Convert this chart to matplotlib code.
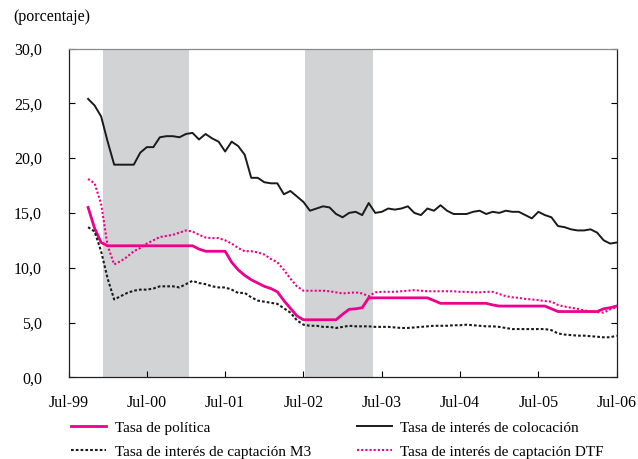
import numpy as np
import matplotlib
matplotlib.use('Agg')
import matplotlib.pyplot as plt

#======== Data (monthly, Oct-99 to Jul-06) ====================#

# x positions are months counted from Jul-99
months = np.arange(3, 85)

tasa_colocacion = [
    25.4, 24.8, 23.8, 21.5, 19.4, 19.4, 19.4, 19.4, 20.5, 21.0,
    21.0, 21.9, 22.0, 22.0, 21.9, 22.2, 22.3, 21.7, 22.2, 21.8,
    21.5, 20.6, 21.5, 21.1, 20.3, 18.2, 18.2, 17.8, 17.7, 17.7,
    16.7, 17.0, 16.5, 16.0, 15.2, 15.4, 15.6, 15.5, 14.9, 14.6,
    15.0, 15.1, 14.8, 15.9, 15.0, 15.1, 15.4, 15.3, 15.4, 15.6,
    15.0, 14.8, 15.4, 15.2, 15.7, 15.2, 14.9, 14.9, 14.9, 15.1,
    15.2, 14.9, 15.1, 15.0, 15.2, 15.1, 15.1, 14.8, 14.5, 15.1,
    14.8, 14.6, 13.8, 13.7, 13.5, 13.4, 13.4, 13.5, 13.2, 12.5,
    12.2, 12.3]

tasa_politica = [
    15.5, 13.6, 12.3, 12.0, 12.0, 12.0, 12.0, 12.0, 12.0, 12.0,
    12.0, 12.0, 12.0, 12.0, 12.0, 12.0, 12.0, 11.7, 11.5, 11.5,
    11.5, 11.5, 10.5, 9.8, 9.3, 8.9, 8.6, 8.3, 8.1, 7.8,
    7.0, 6.3, 5.6, 5.25, 5.25, 5.25, 5.25, 5.25, 5.25, 5.75,
    6.2, 6.25, 6.35, 7.25, 7.25, 7.25, 7.25, 7.25, 7.25, 7.25,
    7.25, 7.25, 7.25, 7.0, 6.75, 6.75, 6.75, 6.75, 6.75, 6.75,
    6.75, 6.75, 6.6, 6.5, 6.5, 6.5, 6.5, 6.5, 6.5, 6.5,
    6.5, 6.25, 6.0, 6.0, 6.0, 6.0, 6.0, 6.0, 6.0, 6.25,
    6.35, 6.5]

tasa_m3 = [
    13.7, 13.3, 11.5, 9.0, 7.1, 7.4, 7.7, 7.9, 8.0, 8.0,
    8.1, 8.3, 8.3, 8.3, 8.2, 8.5, 8.8, 8.6, 8.5, 8.3,
    8.2, 8.2, 8.0, 7.7, 7.7, 7.3, 7.0, 6.9, 6.8, 6.7,
    6.3, 5.9, 5.2, 4.8, 4.7, 4.7, 4.6, 4.6, 4.5, 4.6,
    4.7, 4.65, 4.65, 4.65, 4.6, 4.6, 4.6, 4.55, 4.5, 4.5,
    4.55, 4.6, 4.65, 4.7, 4.7, 4.7, 4.75, 4.75, 4.8, 4.75,
    4.7, 4.65, 4.65, 4.6, 4.5, 4.4, 4.4, 4.4, 4.4, 4.4,
    4.4, 4.3, 4.0, 3.9, 3.85, 3.8, 3.8, 3.75, 3.7, 3.65,
    3.65, 3.8]

tasa_dtf = [
    18.1, 17.7, 15.8, 12.0, 10.3, 10.6, 11.0, 11.5, 11.8, 12.2,
    12.5, 12.8, 12.9, 13.0, 13.2, 13.4, 13.3, 13.0, 12.75, 12.7,
    12.7, 12.5, 12.2, 11.8, 11.5, 11.5, 11.4, 11.2, 10.8, 10.5,
    9.8, 9.0, 8.3, 7.9, 7.9, 7.9, 7.9, 7.85, 7.75, 7.65,
    7.7, 7.75, 7.65, 7.4, 7.75, 7.8, 7.8, 7.8, 7.85, 7.9,
    7.95, 7.9, 7.85, 7.85, 7.85, 7.85, 7.85, 7.8, 7.8, 7.75,
    7.75, 7.8, 7.8, 7.6, 7.4, 7.3, 7.25, 7.15, 7.1, 7.05,
    6.95, 6.9, 6.6, 6.45, 6.35, 6.25, 6.1, 6.0, 5.95, 5.9,
    6.2, 6.4]

# shaded periods (months from Jul-99)
shaded_periods = [(5.3, 18.5), (36.3, 46.7)]

x_ticks = [0, 12, 24, 36, 48, 60, 72, 84]
x_labels = ['Jul-99', 'Jul-00', 'Jul-01', 'Jul-02', 'Jul-03', 'Jul-04', 'Jul-05', 'Jul-06']
y_ticks = [0, 5, 10, 15, 20, 25, 30]

#======== Plotting ============================================#

plt.rcParams['font.family'] = ['Liberation Serif', 'DejaVu Serif']
plt.rcParams['font.size'] = 11.5

magenta = '#EC008C'
W, H = 638, 459

fig = plt.figure(figsize=(W / 100, H / 100), dpi=100)
ax = fig.add_axes([68.5 / W, 1 - 377.3 / H, (616.7 - 68.5) / W, (377.3 - 48.5) / H])

for start, end in shaded_periods:
    ax.axvspan(start, end, color='#D1D3D4', lw=0, zorder=0)

l_pol, = ax.plot(months, tasa_politica, color=magenta, lw=2.0, label='Tasa de política')
l_col, = ax.plot(months, tasa_colocacion, color='#1a1a1a', lw=1.4, label='Tasa de interés de colocación')
l_m3, = ax.plot(months, tasa_m3, color='#1a1a1a', lw=1.5, ls=(0, (1.3, 1.0)),
                label='Tasa de interés de captación M3')
l_dtf, = ax.plot(months, tasa_dtf, color=magenta, lw=1.5, ls=(0, (1.0, 1.0)),
                 label='Tasa de interés de captación DTF')

# Axes
ax.set_xlim(0, 84)
ax.set_ylim(0, 30)
ax.set_xticks(x_ticks)
ax.set_xticklabels(x_labels)
ax.set_yticks(y_ticks)
ax.set_yticklabels([f'{v:.1f}'.replace('.', ',') for v in y_ticks])
ax.tick_params(axis='x', direction='in', length=4, width=0.8, pad=12.5)
ax.tick_params(axis='y', direction='in', length=4, width=0.8, pad=19, right=True)
for side in ['left', 'bottom', 'right']:
    ax.spines[side].set_linewidth(0.9)
    ax.spines[side].set_color('#222222')
ax.spines['top'].set_color('#8a8a8a')
ax.spines['top'].set_linewidth(0.9)

fig.text(13 / W, 1 - 17 / H, '(porcentaje)', ha='left', va='center', fontsize=11.5)

# Legend (two columns)
fig.legend(handles=[l_pol, l_m3, l_col, l_dtf], ncol=2, loc='upper left',
           bbox_to_anchor=(71 / W, 1 - 421 / H), frameon=False,
           borderpad=0, borderaxespad=0, handlelength=2.3, handletextpad=0.56,
           columnspacing=3.0, labelspacing=0.68, fontsize=11)

fig.savefig('out.png', dpi=100)
